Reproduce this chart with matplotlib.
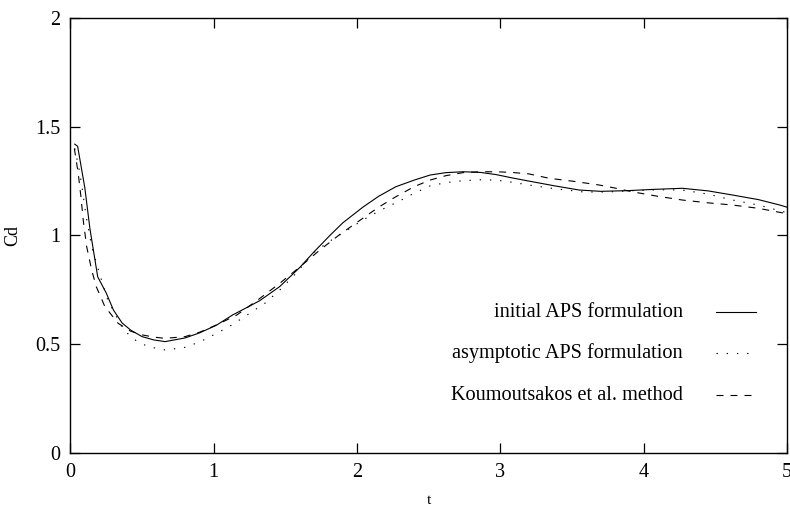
import matplotlib
matplotlib.use("Agg")
import matplotlib.pyplot as plt

plt.rcParams['font.family'] = ['Liberation Serif', 'DejaVu Serif']
plt.rcParams['font.size'] = 14.6

# drag coefficient histories, t in [0, 5]
t_initial = [0.03, 0.05, 0.10, 0.136, 0.19, 0.25, 0.30, 0.36, 0.42, 0.50, 0.58, 0.66, 0.80,
             0.90, 1.02, 1.13, 1.22, 1.32, 1.46, 1.60, 1.70, 1.81, 1.90, 2.04, 2.15, 2.27,
             2.40, 2.51, 2.62, 2.74, 2.86, 2.97, 3.08, 3.20, 3.38, 3.55, 3.70, 3.88, 4.07,
             4.27, 4.45, 4.62, 4.80, 4.95, 5.0]
cd_initial = [1.42, 1.41, 1.22, 1.03, 0.81, 0.735, 0.657, 0.598, 0.565, 0.535, 0.52, 0.512, 0.529,
              0.552, 0.588, 0.634, 0.665, 0.70, 0.765, 0.853, 0.925, 1.0, 1.058, 1.13, 1.18, 1.224,
              1.255, 1.278, 1.289, 1.293, 1.29, 1.28, 1.265, 1.25, 1.228, 1.209, 1.203, 1.206, 1.212,
              1.217, 1.205, 1.186, 1.165, 1.14, 1.13]

t_asym = [0.03, 0.066, 0.11, 0.148, 0.20, 0.26, 0.37, 0.45, 0.54, 0.66, 0.79, 0.90, 1.02, 1.13,
          1.25, 1.36, 1.46, 1.58, 1.69, 1.80, 1.92, 2.04, 2.16, 2.30, 2.40, 2.51, 2.62, 2.74,
          2.86, 2.97, 3.08, 3.20, 3.38, 3.58, 3.75, 3.92, 4.10, 4.27, 4.45, 4.62, 4.80, 5.0]
cd_asym = [1.40, 1.286, 1.086, 0.949, 0.83, 0.703, 0.566, 0.52, 0.489, 0.474, 0.484, 0.51, 0.55, 0.59,
           0.642, 0.69, 0.749, 0.83, 0.918, 0.97, 1.02, 1.071, 1.115, 1.16, 1.195, 1.228, 1.243, 1.252,
           1.256, 1.255, 1.245, 1.232, 1.215, 1.20, 1.20, 1.206, 1.21, 1.209, 1.19, 1.163, 1.14, 1.105]

t_kou = [0.027, 0.054, 0.073, 0.089, 0.113, 0.148, 0.18, 0.24, 0.333, 0.42, 0.50, 0.58, 0.66, 0.80,
         0.90, 1.02, 1.16, 1.30, 1.46, 1.60, 1.74, 1.88, 2.04, 2.15, 2.27, 2.40, 2.51, 2.62, 2.74,
         2.86, 2.97, 3.08, 3.20, 3.34, 3.50, 3.69, 3.80, 3.92, 4.10, 4.27, 4.45, 4.62, 4.80, 5.0]
cd_kou = [1.40, 1.286, 1.178, 1.071, 0.949, 0.841, 0.765, 0.673, 0.596, 0.56, 0.543, 0.533, 0.527, 0.535,
          0.555, 0.589, 0.634, 0.70, 0.78, 0.855, 0.933, 1.005, 1.079, 1.13, 1.178, 1.225, 1.255, 1.275,
          1.289, 1.293, 1.293, 1.29, 1.283, 1.263, 1.25, 1.232, 1.218, 1.201, 1.18, 1.163, 1.15, 1.14,
          1.125, 1.10]

labels = ['initial APS formulation', 'asymptotic APS formulation', 'Koumoutsakos et al. method']
x_ticks = [0, 1, 2, 3, 4, 5]
y_ticks = [0, 0.5, 1, 1.5, 2]
y_ticklabels = ['0', '0.5', '1', '1.5', '2']

lw = 0.8
styles = ['-', (0, (1.2, 8)), (0, (6.3, 6.3))]

fig = plt.figure(figsize=(7.9, 5.08), dpi=100)
ax = fig.add_axes([0.0892, 0.1083, 0.9070, 0.8563])

series = [(t_initial, cd_initial), (t_asym, cd_asym), (t_kou, cd_kou)]
for (ts, cds), ls in zip(series, styles):
    ax.plot(ts, cds, color='black', linestyle=ls, linewidth=lw)

ax.set_xlim(0, 5)
ax.set_ylim(0, 2)
ax.set_xticks(x_ticks)
ax.set_xticklabels([str(v) for v in x_ticks])
ax.set_yticks(y_ticks)
ax.set_yticklabels(y_ticklabels)
ax.tick_params(direction='in', length=7.5, width=0.9, top=True, right=True, pad=7,
               labelsize=14.6)
for sp in ax.spines.values():
    sp.set_linewidth(1.0)

ax.set_xlabel('t', fontsize=11, labelpad=9)
ax.set_ylabel('Cd', fontsize=13, labelpad=10)

# gnuplot-style key: right-justified text followed by a line sample
key_rows = [0.324, 0.230, 0.133]
for label, ls, yk in zip(labels, styles, key_rows):
    ax.text(0.855, yk, label, transform=ax.transAxes, ha='right', va='center', fontsize=14.6)
    ax.plot([0.901, 0.957], [yk, yk], transform=ax.transAxes, color='black',
            linestyle=ls, linewidth=lw)

fig.savefig('out.png', dpi=100)
